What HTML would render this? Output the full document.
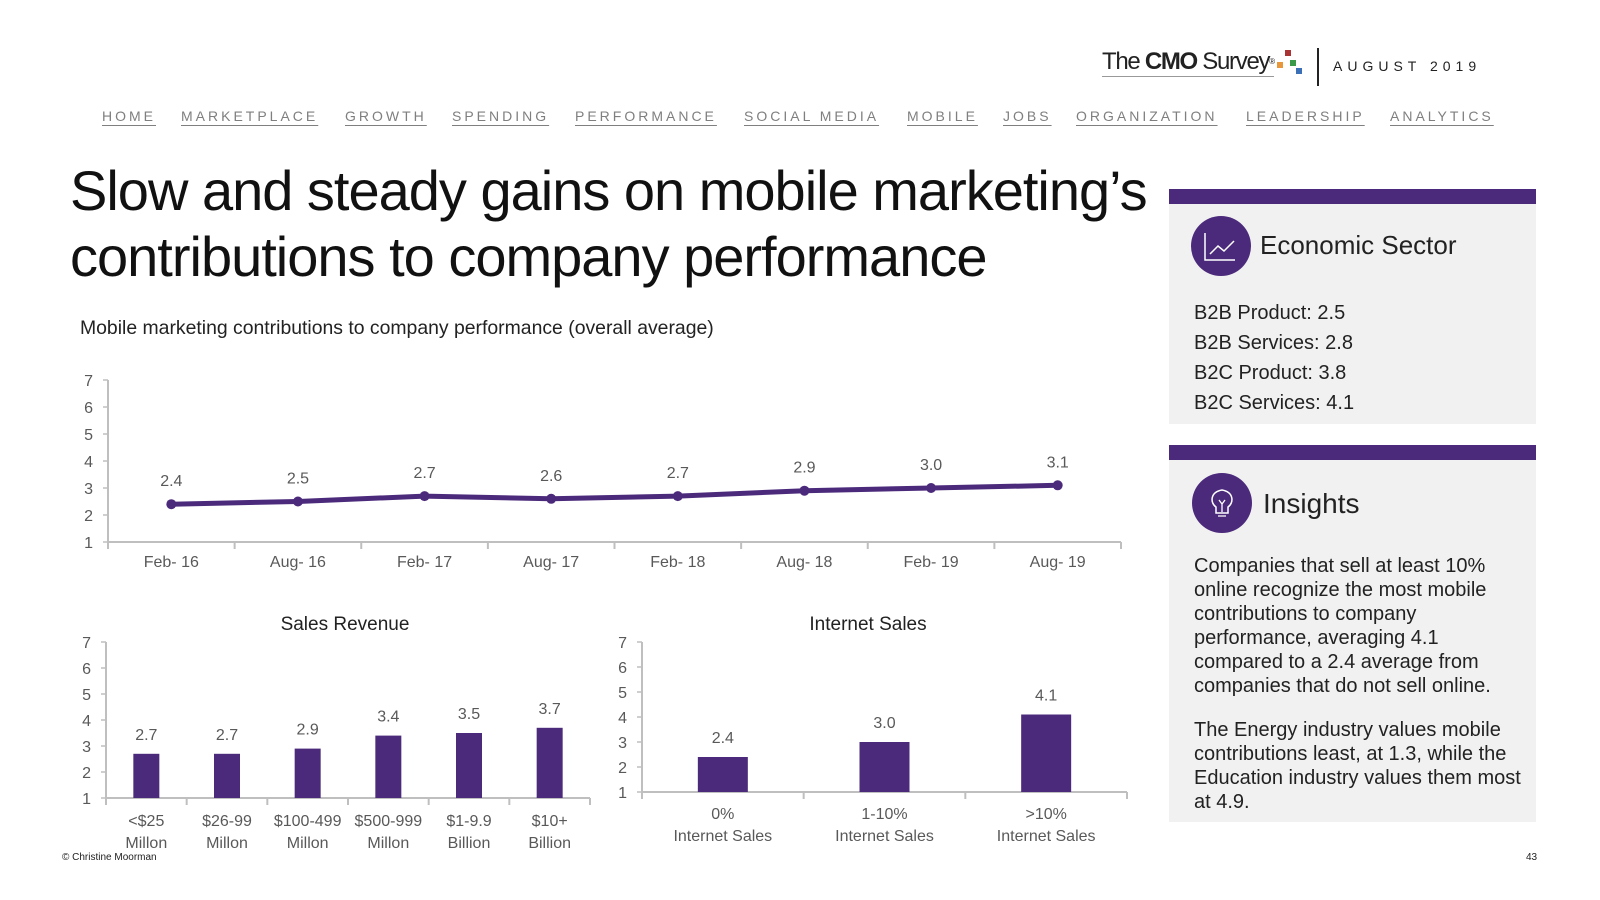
<!DOCTYPE html>
<html><head><meta charset="utf-8"><style>
body{margin:0;background:#fff;font-family:"Liberation Sans",sans-serif;}
#root{position:relative;width:1600px;height:900px;overflow:hidden;}
.a{position:absolute;white-space:nowrap;}
.nav{position:absolute;top:108px;font-size:14px;letter-spacing:3px;color:#7f7f7f;text-decoration:underline;text-underline-offset:4px;}
</style></head><body>
<div id="root">
<div class="a" style="left:1102px;top:48px;font-size:24px;letter-spacing:-1.3px;color:#222;border-bottom:1px solid #999;line-height:28px">The <b>CMO</b> Survey<span style="font-size:8px;vertical-align:top">®</span></div>
<svg class="a" style="left:1274px;top:48px" width="32" height="30"><rect x="11" y="2" width="6" height="6" fill="#a33"/><rect x="3" y="14" width="6" height="6" fill="#e8973a"/><rect x="16" y="12" width="6" height="6" fill="#3a9a4a"/><rect x="22" y="20" width="6" height="6" fill="#3b6fb6"/></svg>
<div class="a" style="left:1317px;top:48px;width:2px;height:38px;background:#222"></div>
<div class="a" style="left:1333px;top:58px;font-size:14px;letter-spacing:5px;color:#222">AUGUST 2019</div>

<a class="nav" style="left:102px">HOME</a>
<a class="nav" style="left:181px">MARKETPLACE</a>
<a class="nav" style="left:345px">GROWTH</a>
<a class="nav" style="left:452px">SPENDING</a>
<a class="nav" style="left:575px">PERFORMANCE</a>
<a class="nav" style="left:744px">SOCIAL MEDIA</a>
<a class="nav" style="left:907px">MOBILE</a>
<a class="nav" style="left:1003px">JOBS</a>
<a class="nav" style="left:1076px">ORGANIZATION</a>
<a class="nav" style="left:1246px">LEADERSHIP</a>
<a class="nav" style="left:1390px">ANALYTICS</a>

<div class="a" style="left:70px;top:158px;font-size:56px;line-height:66px;color:#111;letter-spacing:-1px">Slow and steady gains on mobile marketing’s<br>contributions to company performance</div>
<div class="a" style="left:80px;top:317px;font-size:19.4px;color:#222">Mobile marketing contributions to company performance (overall average)</div>

<div class="a" style="left:1169px;top:189px;width:367px;height:15px;background:#4b2a7b"></div>
<div class="a" style="left:1169px;top:204px;width:367px;height:220px;background:#f1f1f1"></div>
<svg class="a" style="left:1190px;top:215px" width="62" height="62"><circle cx="31" cy="31" r="30" fill="#4b2a7b"/><path d="M15 18V45H45" stroke="#fff" fill="none" stroke-width="1.5"/><path d="M20 39L28 31L34 36L44 26" stroke="#fff" fill="none" stroke-width="1.5"/></svg>
<div class="a" style="left:1260px;top:230px;font-size:26px;color:#222">Economic Sector</div>
<div class="a" style="left:1194px;top:298px;font-size:20px;line-height:30px;color:#222">B2B Product: 2.5<br>B2B Services: 2.8<br>B2C Product: 3.8<br>B2C Services: 4.1</div>

<div class="a" style="left:1169px;top:445px;width:367px;height:15px;background:#4b2a7b"></div>
<div class="a" style="left:1169px;top:460px;width:367px;height:362px;background:#f1f1f1"></div>
<svg class="a" style="left:1191px;top:472px" width="62" height="62"><circle cx="31" cy="31" r="30" fill="#4b2a7b"/><path d="M25 41V35C19 31 19 20 31 18C43 20 43 31 37 35V41Z" stroke="#fff" fill="none" stroke-width="1.5"/><path d="M27 44H35M28 28L31 32L34 28M31 32V40" stroke="#fff" fill="none" stroke-width="1.3"/></svg>
<div class="a" style="left:1263px;top:488px;font-size:28px;color:#222">Insights</div>
<div class="a" style="left:1194px;top:554px;font-size:20px;line-height:24px;color:#222;white-space:normal;width:330px"><div style="width:305px">Companies that sell at least 10% online recognize the most mobile contributions to company performance, averaging 4.1 compared to a 2.4 average from companies that do not sell online.</div><div style="height:20px"></div><div style="width:330px">The Energy industry values mobile contributions least, at 1.3, while the Education industry values them most at 4.9.</div></div>

<div class="a" style="left:62px;top:852px;font-size:10px;color:#222">© Christine Moorman</div>
<div class="a" style="left:1526px;top:852px;font-size:10px;color:#222">43</div>

<svg id="charts" class="a" style="left:0;top:0" width="1600" height="900"></svg>
</div>
<script>
const lineCats=["Feb- 16","Aug- 16","Feb- 17","Aug- 17","Feb- 18","Aug- 18","Feb- 19","Aug- 19"];
const lineVals=[2.4,2.5,2.7,2.6,2.7,2.9,3.0,3.1];
const revCats=[["<$25","Millon"],["$26-99","Millon"],["$100-499","Millon"],["$500-999","Millon"],["$1-9.9","Billion"],["$10+","Billion"]];
const revVals=[2.7,2.7,2.9,3.4,3.5,3.7];
const netCats=[["0%","Internet Sales"],["1-10%","Internet Sales"],[">10%","Internet Sales"]];
const netVals=[2.4,3.0,4.1];
const yTicks=[1,2,3,4,5,6,7];
const NS="http://www.w3.org/2000/svg";
const svg=document.getElementById('charts');
const PUR="#4b2a7b",GR="#bfbfbf",TX="#595959";
function mk(t,at,txt){const e=document.createElementNS(NS,t);for(const k in at)e.setAttribute(k,at[k]);if(txt!=null)e.textContent=txt;svg.appendChild(e);return e;}
function axes(x0,x1,yTop,yBot,n,name){
  const ys=v=>yBot-(v-1)*(yBot-yTop)/6;
  let e=mk('line',{x1:x0,y1:yTop,x2:x0,y2:yBot,stroke:GR,'stroke-width':2});
  
  
  e=mk('line',{x1:x0,y1:yBot,x2:x1,y2:yBot,stroke:GR,'stroke-width':2});
  
  
  yTicks.forEach(t=>{mk('line',{x1:x0-5,y1:ys(t),x2:x0,y2:ys(t),stroke:GR,'stroke-width':1.5});
    e=mk('text',{x:x0-15,y:ys(t)+6,'text-anchor':'end','font-size':16,fill:TX},t);
    
    });
  const w=(x1-x0)/n;
  for(let i=0;i<=n;i++)mk('line',{x1:x0+i*w,y1:yBot,x2:x0+i*w,y2:yBot+7,stroke:GR,'stroke-width':2});
  return {ys,xs:i=>x0+(i+0.5)*w};
}
let A=axes(108,1121,380,542,lineCats.length,'line-chart');
let pts=lineVals.map((v,i)=>A.xs(i)+','+A.ys(v)).join(' ');
let e=mk('polyline',{points:pts,fill:'none',stroke:PUR,'stroke-width':5});


lineVals.forEach((v,i)=>{
  e=mk('circle',{cx:A.xs(i),cy:A.ys(v),r:5,fill:PUR});
  
  
  e=mk('text',{x:A.xs(i),y:A.ys(v)-18,'text-anchor':'middle','font-size':16,fill:TX},v.toFixed(1));
  
  
  e=mk('text',{x:A.xs(i),y:567,'text-anchor':'middle','font-size':16,fill:TX},lineCats[i]);
  
  
});
function bars(x0,x1,yTop,yBot,cats,vals,bw,name,title,tx,l1,l2){
  const B=axes(x0,x1,yTop,yBot,cats.length,name);
  let e=mk('text',{x:tx,y:yTop-12,'text-anchor':'middle','font-size':19,fill:'#222'},title);
  
  
  vals.forEach((v,i)=>{
    e=mk('rect',{x:B.xs(i)-bw/2,y:B.ys(v),width:bw,height:yBot-B.ys(v),fill:PUR});
    
    
    e=mk('text',{x:B.xs(i),y:B.ys(v)-14,'text-anchor':'middle','font-size':16,fill:TX},v.toFixed(1));
    
    
    e=mk('text',{x:B.xs(i),y:l1,'text-anchor':'middle','font-size':16,fill:TX},cats[i][0]);
    
    
    e=mk('text',{x:B.xs(i),y:l2,'text-anchor':'middle','font-size':16,fill:TX},cats[i][1]);
    
    
  });
}
bars(106,590,642,798,revCats,revVals,26,'sales-revenue','Sales Revenue',345,826,848);
bars(642,1127,642,792,netCats,netVals,50,'internet-sales','Internet Sales',868,819,841);
</script>
</body></html>
